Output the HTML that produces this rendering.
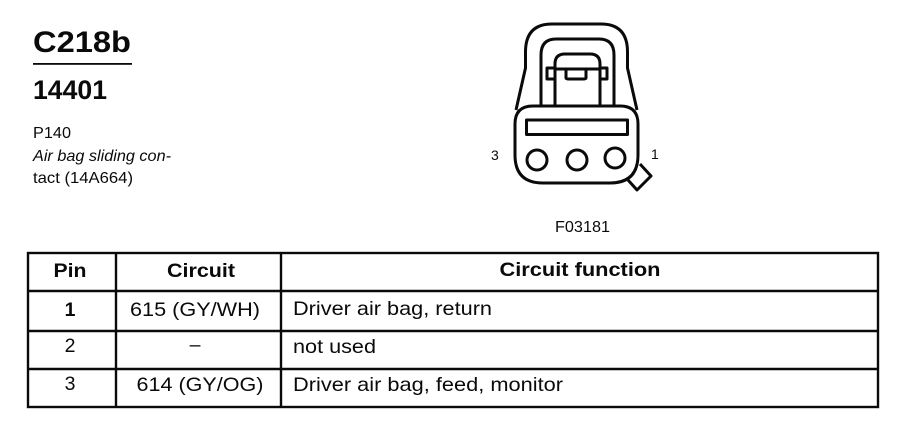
<!DOCTYPE html>
<html>
<head>
<meta charset="utf-8">
<style>
html,body{margin:0;padding:0;background:#fff;width:898px;height:448px;overflow:hidden}
svg{display:block}
text{font-family:"Liberation Sans",sans-serif;fill:#0a0a0a}
.b{font-weight:bold}
</style>
</head>
<body>
<svg width="898" height="448" viewBox="0 0 898 448" xmlns="http://www.w3.org/2000/svg">
<rect width="898" height="448" fill="#fff"/>
<!-- Heading -->
<text class="b" x="33" y="52" font-size="30" textLength="98" lengthAdjust="spacingAndGlyphs">C218b</text>
<rect x="33" y="63" width="99" height="1.8" fill="#0a0a0a"/>
<text class="b" x="33" y="99" font-size="26.500" textLength="74" lengthAdjust="spacingAndGlyphs">14401</text>
<text x="33" y="138" font-size="16" textLength="38" lengthAdjust="spacingAndGlyphs">P140</text>
<text x="33" y="161" font-size="16" font-style="italic" textLength="138" lengthAdjust="spacingAndGlyphs">Air bag sliding con-</text>
<text x="33" y="183" font-size="16" textLength="100" lengthAdjust="spacingAndGlyphs">tact (14A664)</text>
<!-- Connector -->
<g fill="none" stroke="#0a0a0a" stroke-width="3" stroke-linejoin="round">
<path d="M516 110 L525.500 68 V52 Q525.500 24 552 24 H601 Q627.500 24 627.500 52 V68 L637 110"/>
<path d="M541 105 V55 Q541 39 556 39 H599 Q614 39 614 55 V105"/>
<path d="M555 105 V64 Q555 54 565 54 H590 Q600 54 600 64 V105"/>
<path d="M555 68 H547 V79 H555"/>
<path d="M600 68 H607 V79 H600"/>
<path d="M566 70 V78 Q566 79 569 79 H583 Q586 79 586 78 V70"/>
<path d="M555 69 H600"/>
<path fill="#fff" d="M533 106 H620 Q638 106 638 124 V155 Q638 183 610 183 H543 Q515 183 515 155 V124 Q515 106 533 106 Z"/>
<rect x="526.500" y="120" width="101" height="14.500"/>
<circle cx="537" cy="160" r="10"/>
<circle cx="577" cy="160" r="10"/>
<circle cx="615" cy="158" r="10"/>
<path d="M640 164 L651 176 L637 190 L628 180"/>
</g>
<text x="491" y="160" font-size="14">3</text>
<text x="651" y="159" font-size="14">1</text>
<text x="555" y="232" font-size="15.500" textLength="55" lengthAdjust="spacingAndGlyphs">F03181</text>
<!-- Table -->
<g stroke="#0a0a0a" stroke-width="2.400" fill="none">
<rect x="28" y="253" width="850" height="154"/>
<path d="M28 291 H878 M28 331 H878 M28 369 H878"/>
<path d="M116 253 V407 M281 253 V407"/>
</g>
<g font-size="19.500" text-anchor="middle">
<text class="b" x="70" y="277" textLength="33" lengthAdjust="spacingAndGlyphs">Pin</text>
<text class="b" x="201" y="277" textLength="68" lengthAdjust="spacingAndGlyphs">Circuit</text>
<text class="b" x="580" y="276" textLength="161" lengthAdjust="spacingAndGlyphs">Circuit function</text>
<text class="b" x="70" y="316">1</text>
<text x="70" y="352">2</text>
<text x="70" y="390">3</text>
<text x="195" y="316" textLength="130" lengthAdjust="spacingAndGlyphs">615 (GY/WH)</text>
<text x="195" y="351">–</text>
<text x="200" y="391" textLength="127" lengthAdjust="spacingAndGlyphs">614 (GY/OG)</text>
</g>
<g font-size="19.500">
<text x="293" y="315" textLength="199" lengthAdjust="spacingAndGlyphs">Driver air bag, return</text>
<text x="293" y="353" textLength="83" lengthAdjust="spacingAndGlyphs">not used</text>
<text x="293" y="391" textLength="270" lengthAdjust="spacingAndGlyphs">Driver air bag, feed, monitor</text>
</g>
</svg>
</body>
</html>
